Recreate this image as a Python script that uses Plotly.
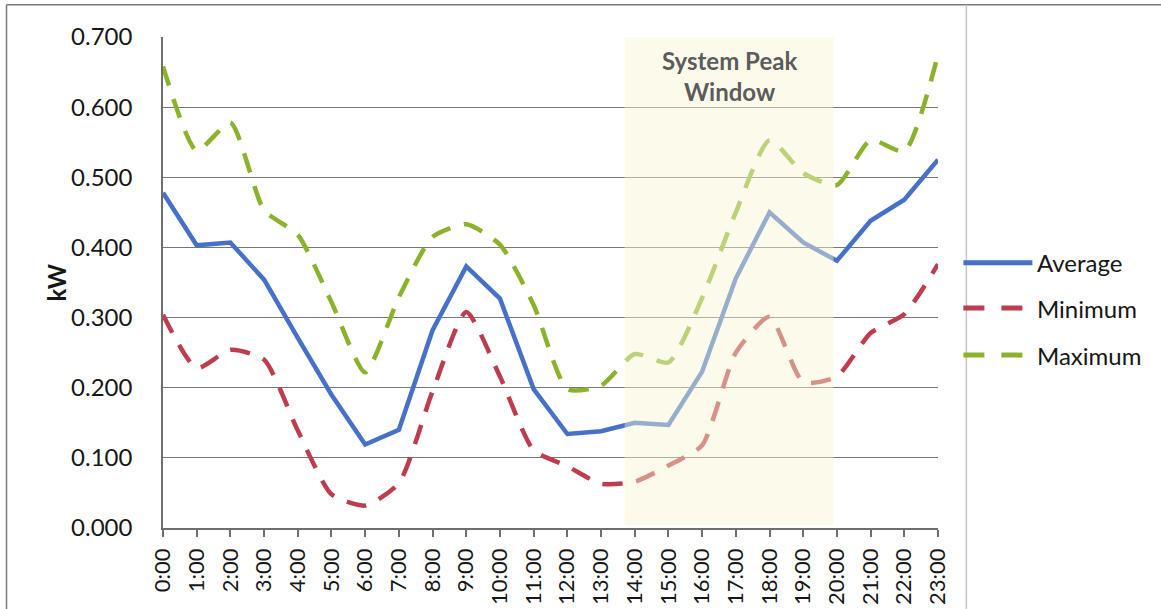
import plotly.graph_objects as go

# Hourly load profile (kW)
HOURS = [f"{h}:00" for h in range(24)]
AVERAGE = [0.478, 0.403, 0.407, 0.354, 0.271, 0.190, 0.119, 0.140,
           0.282, 0.373, 0.327, 0.198, 0.134, 0.138, 0.150, 0.147,
           0.223, 0.356, 0.450, 0.407, 0.381, 0.438, 0.468, 0.525]
MINIMUM = [0.304, 0.228, 0.254, 0.240, 0.139, 0.048, 0.032, 0.064,
           0.195, 0.308, 0.216, 0.111, 0.088, 0.063, 0.066, 0.089,
           0.118, 0.250, 0.301, 0.208, 0.216, 0.278, 0.305, 0.376]
MAXIMUM = [0.658, 0.538, 0.578, 0.453, 0.418, 0.322, 0.222, 0.329,
           0.415, 0.433, 0.404, 0.318, 0.198, 0.203, 0.248, 0.236,
           0.328, 0.450, 0.553, 0.506, 0.489, 0.553, 0.537, 0.675]
SERIES_NAMES = ["Average", "Minimum", "Maximum"]
PEAK_WINDOW = (13.7, 19.9)
PEAK_LABEL = "System Peak<br>Window"
Y_TITLE = "kW"

BLUE = "#4671C6"
RED = "#BD3D4F"
GREEN = "#8CB22C"
FONT = "Lato"
TEXT = "#161616"

# plot-area geometry in pixels
W, H = 1161, 609
L, R, T, B = 162.5, 937.6, 37.3, 527.7


def px(xp):
    return (xp - L) / (R - L)


def py(yp):
    return (B - yp) / (B - T)


x = list(range(24))
fig = go.Figure()
fig.add_trace(go.Scatter(x=x, y=AVERAGE, mode="lines", name=SERIES_NAMES[0],
                         line=dict(color=BLUE, width=4.5)))
fig.add_trace(go.Scatter(x=x, y=MINIMUM, mode="lines", name=SERIES_NAMES[1],
                         line=dict(color=RED, width=4.5, dash="20px,14px",
                                   shape="spline", smoothing=0.6)))
fig.add_trace(go.Scatter(x=x, y=MAXIMUM, mode="lines", name=SERIES_NAMES[2],
                         line=dict(color=GREEN, width=4.5, dash="20px,14px",
                                   shape="spline", smoothing=0.6)))

shapes = []
# translucent peak-window band drawn over the lines
shapes.append(dict(type="rect", xref="x", yref="y",
                   x0=PEAK_WINDOW[0], x1=PEAK_WINDOW[1], y0=0.004, y1=0.7,
                   fillcolor="rgba(248,246,210,0.45)", line=dict(width=0),
                   layer="above"))
# outer frame
frame = "#7a7a7a"
shapes.append(dict(type="line", xref="paper", yref="paper",
                   x0=px(6), x1=px(W + 5), y0=py(5), y1=py(5),
                   line=dict(color=frame, width=1.5)))
shapes.append(dict(type="line", xref="paper", yref="paper",
                   x0=px(6), x1=px(6), y0=py(5), y1=py(H + 5),
                   line=dict(color=frame, width=1.5)))
shapes.append(dict(type="line", xref="paper", yref="paper",
                   x0=px(966), x1=px(966), y0=py(5), y1=py(H + 5),
                   line=dict(color="#c4c4c4", width=1.5)))

# legend entries
annotations = []
legend_rows = [(262.7, BLUE, "solid"), (308.0, RED, "21px,17px"),
               (355.0, GREEN, "21px,17px")]
for name, (yy, col, dash) in zip(SERIES_NAMES, legend_rows):
    shapes.append(dict(type="line", xref="paper", yref="paper",
                       x0=px(963), x1=px(1032), y0=py(yy), y1=py(yy),
                       line=dict(color=col, width=5, dash=dash)))
    annotations.append(dict(xref="paper", yref="paper", x=px(1035), y=py(yy),
                            text=name, showarrow=False, xanchor="left",
                            yanchor="middle",
                            font=dict(family=FONT, size=24, color=TEXT)))

annotations.append(dict(xref="x", yref="y", x=sum(PEAK_WINDOW) / 2, y=0.644,
                        text=PEAK_LABEL, showarrow=False, xanchor="center",
                        yanchor="middle",
                        font=dict(family=FONT, size=24, color="#5c5c5c",
                                  weight="bold")))
annotations.append(dict(xref="paper", yref="paper", x=px(55), y=py(283),
                        text=Y_TITLE, showarrow=False, textangle=-90,
                        xanchor="center", yanchor="middle",
                        font=dict(family=FONT, size=24, color=TEXT,
                                  weight="bold")))

fig.update_layout(
    width=W, height=H,
    margin=dict(l=L, r=W - R, t=T, b=H - B, pad=0, autoexpand=False),
    paper_bgcolor="white", plot_bgcolor="white",
    showlegend=False,
    shapes=shapes, annotations=annotations,
    font=dict(family=FONT, size=22, color=TEXT),
)
fig.update_xaxes(range=[0, 23], tickmode="array", tickvals=x, ticktext=HOURS,
                 tickangle=-90, ticks="outside", ticklen=7, tickwidth=1.5,
                 tickcolor="#6e6e6e", showline=True, linecolor="#6e6e6e",
                 linewidth=1.5, showgrid=False, zeroline=False,
                 automargin=False, ticklabelstandoff=3,
                 tickfont=dict(family=FONT, size=22, color=TEXT))
fig.update_yaxes(range=[0, 0.7], tick0=0, dtick=0.1, tickformat=".3f",
                 ticks="", ticklabelstandoff=24, showline=True,
                 linecolor="#6e6e6e", linewidth=1.5, showgrid=True,
                 gridcolor="#777777", gridwidth=1.4, zeroline=False,
                 automargin=False,
                 tickfont=dict(family=FONT, size=24, color=TEXT))

fig.write_html("out.html")
